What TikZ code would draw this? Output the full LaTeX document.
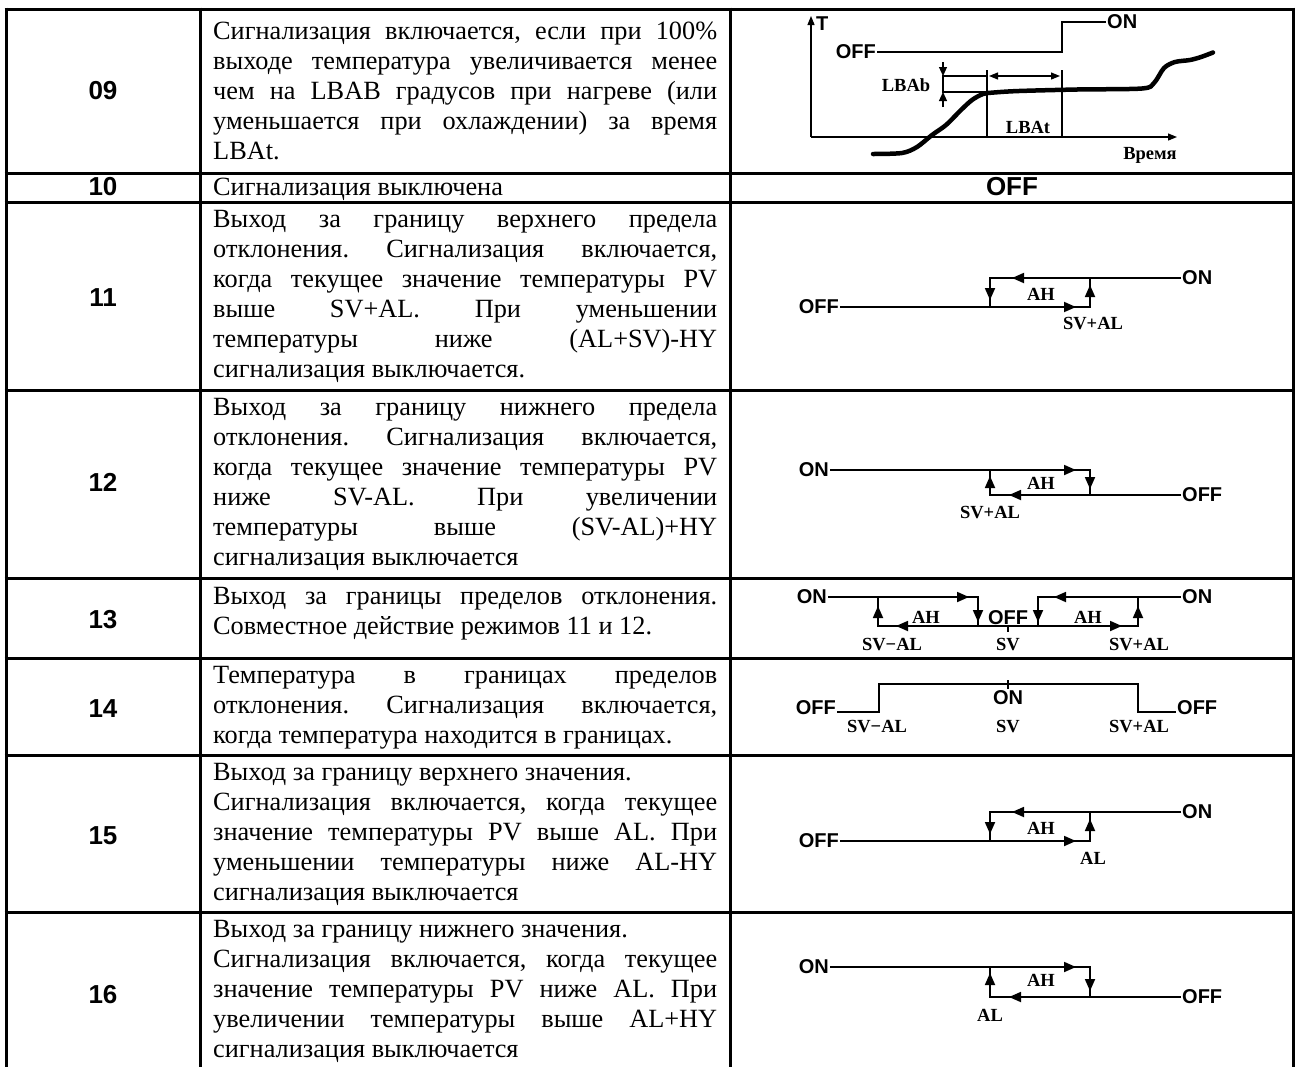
\documentclass[tikz,border=0pt]{standalone}
\usepackage{fontspec}
\setmainfont{Liberation Serif}
\newfontfamily\arialfont{Liberation Sans}
\usetikzlibrary{arrows.meta}
\frenchspacing

\newlength{\descw}
\setlength{\descw}{504pt}
% justified line / last line of a cell
\newcommand{\jl}[1]{\strut\makebox[\descw][s]{#1}}
\newcommand{\el}[1]{\strut #1}

\tikzset{
  border/.style={line width=3pt},
  num/.style={font=\arialfont\bfseries\fontsize{26}{30}\selectfont, inner sep=0pt},
  desc/.style={anchor=west, inner sep=0pt, align=left, font=\fontsize{26.3}{30}\selectfont},
  sig/.style={line width=1.8pt},
  axis/.style={line width=1.2pt},
  tip/.style={-{Triangle[length=12pt,width=10pt]}, line width=1.8pt},
  smalltip/.style={-{Triangle[length=9pt,width=8pt]}, line width=1.2pt},
  onoff/.style={font=\arialfont\bfseries\fontsize{20}{20}\selectfont, inner sep=1pt},
  val/.style={font=\bfseries\fontsize{18.5}{18.5}\selectfont, inner sep=0pt},
}

\begin{document}
\begin{tikzpicture}[x=1pt, y=-1pt]
\useasboundingbox (0,0) rectangle (1298,1066);
\fill[white] (0,0) rectangle (1298,1066);

% row 09: loop break diagram
\draw[axis, -{Triangle[length=9pt,width=7pt]}] (811,137) -- (811,16);
\draw[axis, -{Triangle[length=9pt,width=7pt]}] (811,137) -- (1177,137);
\node[onoff, anchor=west] (t09) at (815,24) {T};
\node[onoff, anchor=east] (off09) at (877,52) {OFF};
\node[onoff, anchor=west] (on09) at (1106,22) {ON};
\draw[sig] (off09.east) -- (1062,52) -- (1062,22) -- (on09.west);
\draw[axis] (987,70) -- (987,137);
\draw[axis] (1062,70) -- (1062,137);
\draw[axis] (942,76) -- (987,76);
\draw[axis] (942,92) -- (987,92);
\draw[axis, {Triangle[length=9pt,width=7pt]}-{Triangle[length=9pt,width=7pt]}] (989,76) -- (1060,76);
\draw[axis] (943,76) -- (943,92);
\draw[smalltip] (943,62) -- (943,76);
\draw[smalltip] (943,107) -- (943,92);
\node[val] (lbab) at (906,85) {LBAb};
\node[val] (lbat) at (1028,127) {LBAt};
\node[val] (time) at (1150,155) {Время};
\draw[line width=4.5pt, line cap=round, line join=round] plot[smooth, tension=0.5] coordinates {
  (873,154) (902,153) (917,147) (932,135) (946,125) (961,110) (972,100) (983,94)
  (994,92.5) (1019,91) (1077,89.5) (1142,88.5) (1154,83) (1164,68) (1175,62)
  (1190,60) (1201,57) (1213,52.5)};

% row 10
\node[num] (off10) at (1012,187) {OFF};

% rows 11 and 15: upper limit
\foreach \up/\lo/\lab in {278/307/SV+AL, 812/841/AL}{
  \node[onoff, anchor=east] (off\up) at (840,\lo) {OFF};
  \node[onoff, anchor=west] (on\up) at (1181,\up) {ON};
  \draw[sig] (off\up.east) -- (1090,\lo) -- (1090,\up);
  \draw[sig] (on\up.west) -- (990,\up) -- (990,\lo);
  \draw[tip] (1028,\up) -- (1012,\up);
  \draw[tip] (1060,\lo) -- (1076,\lo);
  \draw[tip] (990,\lo-22) -- (990,\lo-7);
  \draw[tip] (1090,\up+22) -- (1090,\up+7);
  \node[val] (ah\up) at (1041,\up+16) {AH};
  \node[val] (lim\up) at (1093,\lo+17) {\lab};
}

% rows 12 and 16: lower limit
\foreach \up/\lo/\lab in {470/495/SV+AL, 967/997/AL}{
  \node[onoff, anchor=east] (on\up) at (830,\up) {ON};
  \node[onoff, anchor=west] (off\up) at (1181,\lo) {OFF};
  \draw[sig] (on\up.east) -- (1090,\up) -- (1090,\lo);
  \draw[sig] (off\up.west) -- (990,\lo) -- (990,\up);
  \draw[tip] (1060,\up) -- (1076,\up);
  \draw[tip] (1025,\lo) -- (1009,\lo);
  \draw[tip] (1090,\lo-20) -- (1090,\lo-6);
  \draw[tip] (990,\up+20) -- (990,\up+6);
  \node[val] (ah\up) at (1041,\up+13) {AH};
  \node[val] (lim\up) at (990,\lo+18) {\lab};
}

% row 13: both limits
\node[onoff, anchor=east] (onl13) at (828,597) {ON};
\node[onoff, anchor=west] (onr13) at (1181,597) {ON};
\draw[sig] (onl13.east) -- (978,597) -- (978,626);
\draw[sig] (878,597) -- (878,626) -- (1138,626) -- (1138,597);
\draw[sig] (onr13.west) -- (1038,597) -- (1038,626);
\draw[sig] (1008,626) -- (1008,632);
\draw[tip] (953,597) -- (969,597);
\draw[tip] (978,606) -- (978,622);
\draw[tip] (878,622) -- (878,606);
\draw[tip] (912,626) -- (896,626);
\draw[tip] (1070,597) -- (1054,597);
\draw[tip] (1038,606) -- (1038,622);
\draw[tip] (1106,626) -- (1122,626);
\draw[tip] (1138,622) -- (1138,606);
\node[onoff, anchor=base] (off13) at (1008,624) {OFF};
\node[val] (ahl13) at (926,617) {AH};
\node[val] (ahr13) at (1088,617) {AH};
\node[val] (svl13) at (892,645) {SV−AL};
\node[val] (sv13) at (1008,645) {SV};
\node[val] (svr13) at (1139,645) {SV+AL};

% row 14: inside the band
\node[onoff, anchor=east] (offl14) at (837,708) {OFF};
\node[onoff, anchor=west] (offr14) at (1176,708) {OFF};
\draw[sig] (offl14.east|-0,712) -- (879,712) -- (879,684) -- (1138,684) -- (1138,712) -- (offr14.west|-0,712);
\draw[sig] (1008,680) -- (1008,689);
\node[onoff] (on14) at (1008,698) {ON};
\node[val] (svl14) at (877,727) {SV−AL};
\node[val] (sv14) at (1008,727) {SV};
\node[val] (svr14) at (1139,727) {SV+AL};

% codes
\node[num] (c09) at (103,91) {09};
\node[num] (c10) at (103,187) {10};
\node[num] (c11) at (103,298) {11};
\node[num] (c12) at (103,482) {12};
\node[num] (c13) at (103,620) {13};
\node[num] (c14) at (103,709) {14};
\node[num] (c15) at (103,836) {15};
\node[num] (c16) at (103,995) {16};

% descriptions
\node[desc] (d09) at (213,93) {\jl{Сигнализация включается, если при 100\%}\\
  \jl{выходе температура увеличивается менее}\\
  \jl{чем на LBAB градусов при нагреве (или}\\
  \jl{уменьшается при охлаждении) за время}\\
  \el{LBAt.}};
\node[desc] (d10) at (213,189) {\el{Сигнализация выключена}};
\node[desc] (d11) at (213,296) {\jl{Выход за границу верхнего предела}\\
  \jl{отклонения. Сигнализация включается,}\\
  \jl{когда текущее значение температуры PV}\\
  \jl{выше SV+AL. При уменьшении}\\
  \jl{температуры ниже (AL+SV)-HY}\\
  \el{сигнализация выключается.}};
\node[desc] (d12) at (213,484) {\jl{Выход за границу нижнего предела}\\
  \jl{отклонения. Сигнализация включается,}\\
  \jl{когда текущее значение температуры PV}\\
  \jl{ниже SV-AL. При увеличении}\\
  \jl{температуры выше (SV-AL)+HY}\\
  \el{сигнализация выключается}};
\node[desc] (d13) at (213,613) {\jl{Выход за границы пределов отклонения.}\\
  \el{Совместное действие режимов 11 и 12.}};
\node[desc] (d14) at (213,707) {\jl{Температура в границах пределов}\\
  \jl{отклонения. Сигнализация включается,}\\
  \el{когда температура находится в границах.}};
\node[desc] (d15) at (213,834) {\el{Выход за границу верхнего значения.}\\
  \jl{Сигнализация включается, когда текущее}\\
  \jl{значение температуры PV выше AL. При}\\
  \jl{уменьшении температуры ниже AL-HY}\\
  \el{сигнализация выключается}};
\node[desc] (d16) at (213,991) {\el{Выход за границу нижнего значения.}\\
  \jl{Сигнализация включается, когда текущее}\\
  \jl{значение температуры PV ниже AL. При}\\
  \jl{увеличении температуры выше AL+HY}\\
  \el{сигнализация выключается}};

% table rules
\foreach \xx in {6,200,730,1293}
  \draw[border] (\xx,7.5) -- (\xx,1070);
\foreach \yy in {9,173,202,390,578,658,755,912}
  \draw[border] (4.5,\yy) -- (1294.5,\yy);
\end{tikzpicture}
\end{document}
